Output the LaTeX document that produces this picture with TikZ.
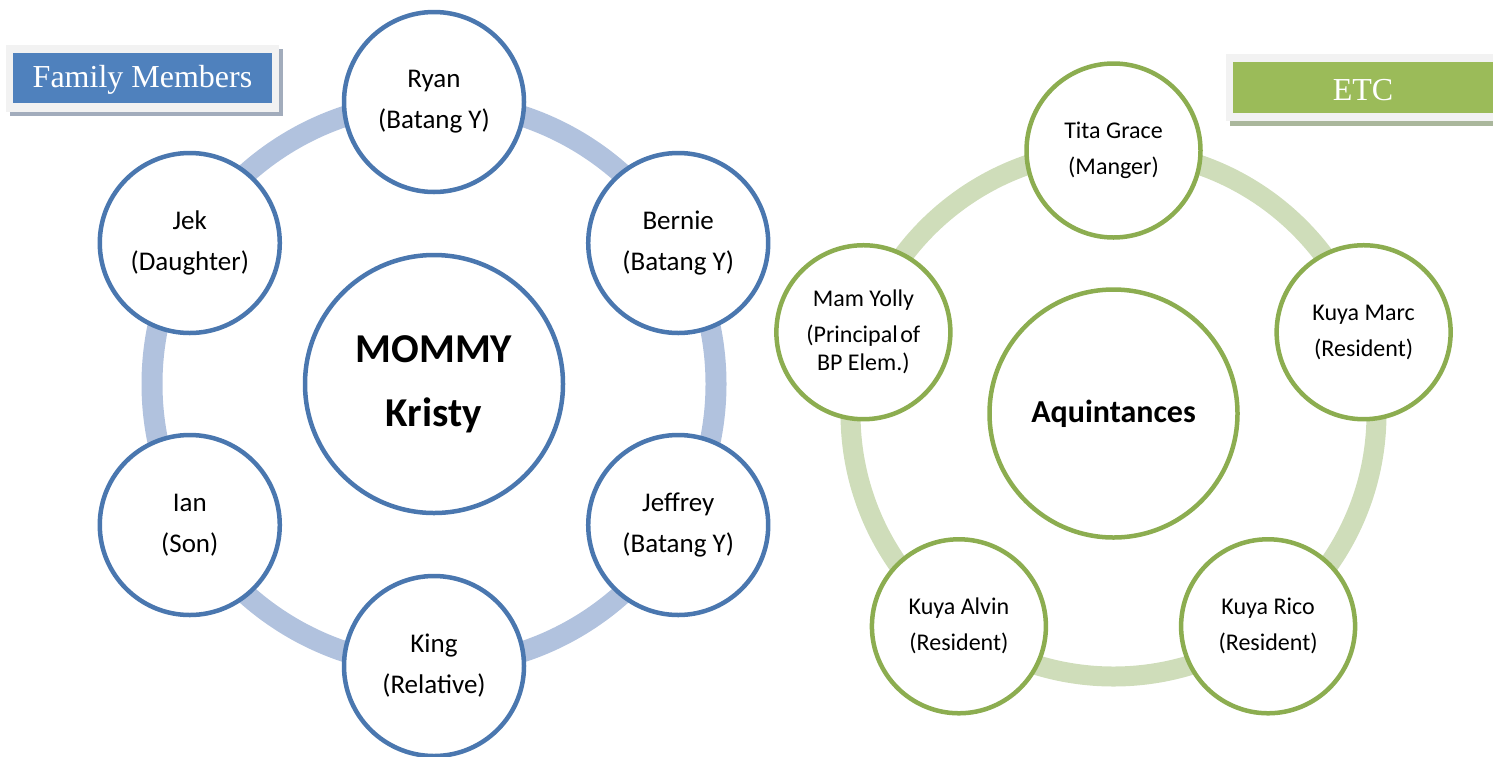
\documentclass[tikz,border=0pt]{standalone}
\usepackage{fontspec}
\usetikzlibrary{calc}
\setmainfont{Carlito}
\newfontfamily\timesf{Liberation Serif}
\definecolor{bborder}{HTML}{4A77AF}
\definecolor{bring}{HTML}{B1C2DE}
\definecolor{gborder}{HTML}{8CAD50}
\definecolor{gring}{HTML}{CFDDBA}
\definecolor{bfill}{HTML}{4F81BD}
\definecolor{gfill}{HTML}{9BBB59}
\definecolor{frame}{HTML}{F2F2F2}
\definecolor{bshadow}{HTML}{A2ACBC}
\definecolor{gshadow}{HTML}{AAB79C}
\tikzset{
  lnode/.style={circle, draw=bborder, line width=2.25pt, fill=white, minimum size=90pt, inner sep=0pt, align=center, font=\fontsize{13.5}{20.5}\selectfont},
  lcenter/.style={lnode, minimum size=129pt, font=\fontsize{20.5}{32}\selectfont\bfseries},
  rnode/.style={circle, draw=gborder, line width=2.25pt, fill=white, minimum size=87pt, inner sep=0pt, align=center, font=\fontsize{12}{18}\selectfont},
  rcenter/.style={rnode, minimum size=124pt, font=\fontsize{16}{20}\selectfont\bfseries},
  lringst/.style={draw=bring, line width=10.5pt},
  rringst/.style={draw=gring, line width=10pt},
  titletext/.style={text=white, font=\timesf\fontsize{16}{18}\selectfont, inner sep=0pt}
}
\begin{document}
\begin{tikzpicture}[x=0.5pt,y=-0.5pt]
\useasboundingbox (0,0) rectangle (1493,756);
% title boxes
\fill[bshadow] (10,49) rectangle (283,116);
\fill[frame] (6,45) rectangle (279,112);
\fill[bfill] (13,53) rectangle (272,103);
\node[titletext] (famtitle) at (142.5,80) {Family Members};
\fill[gshadow] (1230,58) rectangle (1500,126);
\fill[frame] (1226,54) rectangle (1500,121);
\fill[gfill] (1233,62) rectangle (1500,113);
\node[titletext] (etctitle) at (1363,90) {ETC};
% left diagram
\coordinate (lc) at (434,384);
\draw[lringst] (lc) circle[radius=141pt];
\node[lcenter] (mommy) at (lc) {MOMMY\\Kristy};
\node[lnode] (ryan) at ($(lc)+(-90:282)$) {Ryan\\(Batang Y)};
\node[lnode] (bernie) at ($(lc)+(-30:282)$) {Bernie\\(Batang Y)};
\node[lnode] (jeffrey) at ($(lc)+(30:282)$) {Jeffrey\\(Batang Y)};
\node[lnode] (king) at ($(lc)+(90:282)$) {King\\(Relative)};
\node[lnode] (ian) at ($(lc)+(150:282)$) {Ian\\(Son)};
\node[lnode] (jek) at ($(lc)+(-150:282)$) {Jek\\(Daughter)};
% right diagram
\coordinate (rc) at (1113.5,413.5);
\draw[rringst] (rc) circle[radius=131.5pt];
\node[rcenter] (aqui) at (rc) {Aquintances};
\node[rnode] (tita) at ($(rc)+(-90:263)$) {Tita Grace\\(Manger)};
\node[rnode] (marc) at ($(rc)+(-18:263)$) {Kuya Marc\\(Resident)};
\node[rnode] (rico) at ($(rc)+(54:263)$) {Kuya Rico\\(Resident)};
\node[rnode] (alvin) at ($(rc)+(126:263)$) {Kuya Alvin\\(Resident)};
\node[rnode, font=\fontsize{12}{14}\selectfont] (yolly) at ($(rc)+(-162:263)$) {Mam Yolly\\[4pt](Principal\hspace{-0.12em} of\\BP Elem.)};
\end{tikzpicture}
\end{document}
